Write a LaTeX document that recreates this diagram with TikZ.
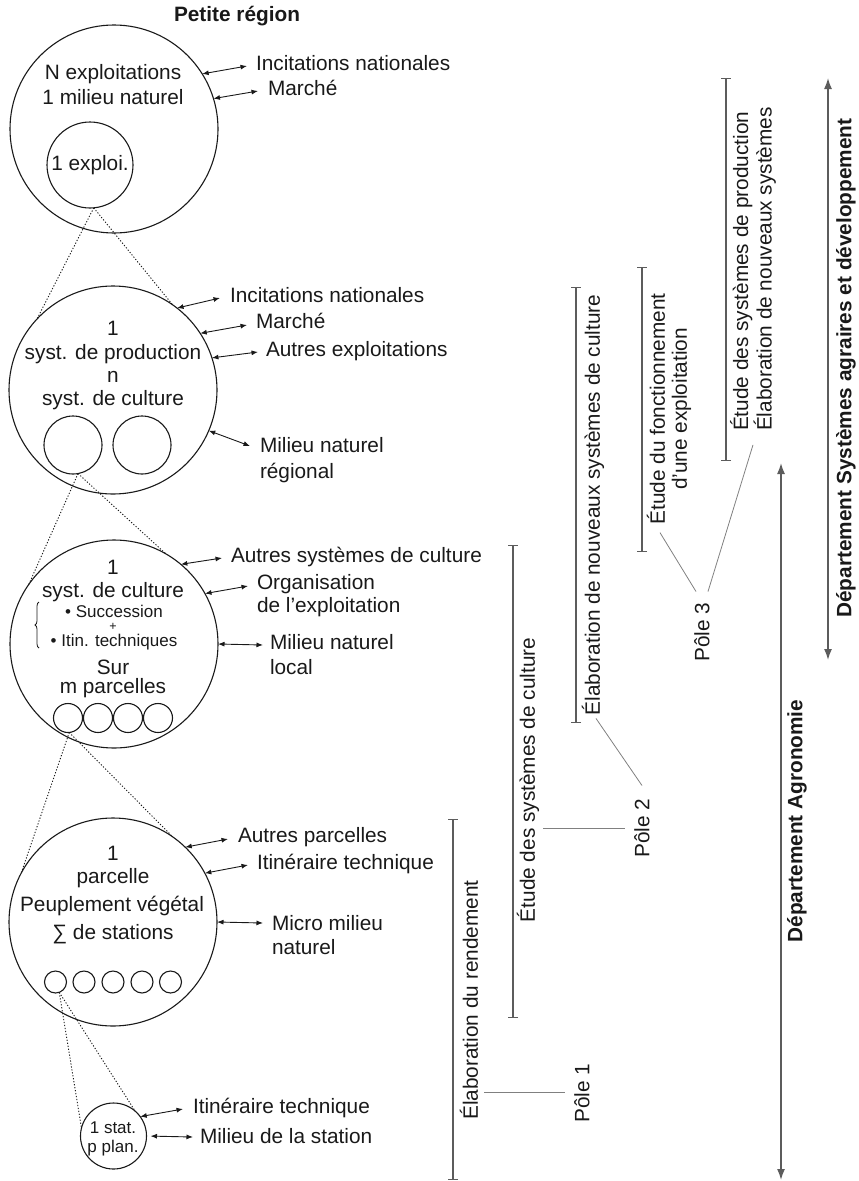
\documentclass[tikz,border=0pt]{standalone}
\usepackage{fontspec}
\setmainfont{Liberation Sans}
\usetikzlibrary{arrows.meta,decorations.pathreplacing}
\definecolor{ink}{gray}{0.1}
\definecolor{barc}{gray}{0.36}
\definecolor{polec}{gray}{0.5}
\begin{document}
\begin{tikzpicture}[x=1pt,y=-1pt,
  every node/.style={inner sep=0pt, outer sep=0pt, text=ink},
  big/.style={font=\fontsize{20.8}{24}\selectfont},
  ctr/.style={big, anchor=base},
  sml/.style={font=\fontsize{17}{20}\selectfont, anchor=base},
  lab/.style={big, anchor=base west},
  ring/.style={draw=ink, line width=1.1pt, shape=circle, minimum size=#1},
  dbl/.style={{Latex[length=6.5pt,width=5pt]}-{Latex[length=6.5pt,width=5pt]}, line width=0.9pt, draw=ink},
  zoomline/.style={draw=ink, line width=0.9pt, dash pattern=on 1.2pt off 1.8pt},
  bar/.style={{Bar[width=10pt]}-{Bar[width=10pt]}, line width=1.2pt, draw=barc},
  pole/.style={draw=polec, line width=0.8pt},
  rot/.style={big, rotate=90},
  dept/.style={{Latex[length=11pt,width=8pt]}-{Latex[length=11pt,width=8pt]}, line width=1.5pt, draw=barc}
]
\useasboundingbox (0,0) rectangle (859,1181);

% ---------- title
\node[big, font=\bfseries\fontsize{20.8}{24}\selectfont] (title) at (237,16) {Petite région};

% ---------- circle 1
\node[ring=208] (c1) at (114,129) {};
\node[ring=86] (c1in) at (90,165) {};
\node[ctr] (t1a) at (113,79) {N exploitations};
\node[ctr] (t1b) at (113,104) {1 milieu naturel};
\node[ctr] (t1c) at (90,170) {1 exploi.};
\node[lab] (L1a) at (256,70) {Incitations nationales};
\node[lab] (L1b) at (268,95) {Marché};
\draw[dbl] (c1.32) -- ([shift={(-9pt,4pt)}]L1a.base west);
\draw[dbl] (c1.17) -- ([shift={(-10pt,4pt)}]L1b.base west);

% ---------- circle 2
\node[ring=208] (c2) at (113,390) {};
\node[ring=58] (s21) at (73,445) {};
\node[ring=58] (s22) at (142,445) {};
\node[ctr] (t2a) at (113,335) {1};
\node[ctr] (t2b) at (113,359) {syst. de production};
\node[ctr] (t2c) at (113,382) {n};
\node[ctr] (t2d) at (113,405) {syst. de culture};
\node[lab] (L2a) at (230,302) {Incitations nationales};
\node[lab] (L2b) at (256,328) {Marché};
\node[lab] (L2c) at (266,356) {Autres exploitations};
\node[lab] (L2d) at (260,452) {Milieu naturel};
\node[lab] (L2e) at (260,478) {régional};
\draw[dbl] (c2.52) -- ([shift={(-10pt,4pt)}]L2a.base west);
\draw[dbl] (c2.33) -- ([shift={(-9pt,3pt)}]L2b.base west);
\draw[dbl] (c2.18) -- ([shift={(-8pt,4pt)}]L2c.base west);
\draw[dbl] (c2.-23) -- ([shift={(-10pt,6pt)}]L2d.base west);
\draw[zoomline] (c1in.-85) -- (c2.137);
\draw[zoomline] (c1in.-85) -- (c2.55);

% ---------- circle 3
\node[ring=208] (c3) at (114,644) {};
\foreach \i/\x in {1/68,2/98,3/128,4/158}{\node[ring=29] (s3\i) at (\x,718) {};}
\node[ctr] (t3a) at (113,574) {1};
\node[ctr] (t3b) at (113,597) {syst. de culture};
\node[sml] (t3c) at (114,617) {• Succession};
\node[font=\fontsize{12.5}{14}\selectfont, anchor=base] (t3d) at (113,630) {+};
\node[sml] (t3e) at (114,646) {• Itin. techniques};
\node[ctr] (t3f) at (113,674) {Sur};
\node[ctr] (t3g) at (113,693) {m parcelles};
\draw[ink, line width=0.8pt, decorate, decoration={brace, amplitude=4pt}] (39,648) -- (39,602);
\node[lab] (L3a) at (231,562) {Autres systèmes de culture};
\node[lab] (L3b) at (257,589) {Organisation};
\node[lab] (L3c) at (257,612) {de l’exploitation};
\node[lab] (L3d) at (270,649) {Milieu naturel};
\node[lab] (L3e) at (270,674) {local};
\draw[dbl] (c3.50) -- ([shift={(-9pt,4pt)}]L3a.base west);
\draw[dbl] (c3.29) -- ([shift={(-9pt,3pt)}]L3b.base west);
\draw[dbl] (c3.0) -- ([shift={(-7pt,4pt)}]L3d.base west);
\draw[zoomline] (s21.-80) -- (c3.145);
\draw[zoomline] (s21.-80) -- (c3.60);

% ---------- circle 4
\node[ring=208] (c4) at (113,922) {};
\foreach \i/\x in {1/55.5,2/84,3/113,4/142,5/170.5}{\node[ring=22] (s4\i) at (\x,982) {};}
\node[ctr] (t4a) at (113,860) {1};
\node[ctr] (t4b) at (113,883) {parcelle};
\node[ctr] (t4c) at (112,911) {Peuplement végétal};
\node[ctr] (t4d) at (113,939) {∑ de stations};
\node[lab] (L4a) at (238,842) {Autres parcelles};
\node[lab] (L4b) at (257,869) {Itinéraire technique};
\node[lab] (L4c) at (272,930) {Micro milieu};
\node[lab] (L4d) at (272,954) {naturel};
\draw[dbl] (c4.46) -- ([shift={(-10pt,3pt)}]L4a.base west);
\draw[dbl] (c4.28) -- ([shift={(-9pt,4pt)}]L4b.base west);
\draw[dbl] (c4.0) -- ([shift={(-9pt,7pt)}]L4c.base west);
\draw[zoomline] (s31.-85) -- (c4.152);
\draw[zoomline] (s31.-85) -- (c4.55);

% ---------- station circle
\node[ring=66] (c5) at (113.5,1136) {};
\node[sml] (t5a) at (113,1133) {1 stat.};
\node[sml] (t5b) at (113,1152) {p plan.};
\node[lab] (L5a) at (193,1113) {Itinéraire technique};
\node[lab] (L5b) at (200,1143) {Milieu de la station};
\draw[dbl] (c5.36) -- ([shift={(-10pt,4pt)}]L5a.base west);
\draw[dbl, shorten <=4pt] (c5.0) -- ([shift={(-7pt,6pt)}]L5b.base west);
\draw[zoomline] (s41.-70) -- (c5.166);
\draw[zoomline] (s41.-70) -- (c5.49);

% ---------- right side: bars
\draw[bar] (453,819) -- (453,1180);
\node[rot] (b1t) at (469,1000) {Élaboration du rendement};
\draw[bar] (513,545) -- (513,1018);
\node[rot] (b2t) at (528,780) {Étude des systèmes de culture};
\draw[bar] (576,287) -- (576,723);
\node[rot] (b3t) at (593,505) {Élaboration de nouveaux systèmes de culture};
\draw[bar] (642,267) -- (642,552);
\node[rot, align=center, font=\fontsize{20.8}{22}\selectfont] (b4t) at (669,409) {Étude du fonctionnement\\d’une exploitation};
\draw[bar] (726,78) -- (726,461);
\node[rot, align=left, font=\fontsize{20.8}{22}\selectfont] (b5t) at (753,269) {Étude des systèmes de production\\Élaboration de nouveaux systèmes};

% ---------- poles
\node[rot] (p1) at (582,1093) {Pôle 1};
\node[rot] (p2) at (642,828) {Pôle 2};
\node[rot] (p3) at (702,632) {Pôle 3};
\coordinate (e1) at (484,1092);
\coordinate (e2) at (543,828);
\draw[pole, shorten >=9pt] (e1) -- (e1 -| p1.north);
\draw[pole, shorten >=9pt] (e2) -- (e2 -| p2.north);
\draw[pole] ([yshift=13pt]p2.east) -- ([shift={(3pt,-3pt)}]b3t.west);
\draw[pole] ([shift={(-6pt,11pt)}]p3.east) -- ([shift={(-9pt,-8pt)}]b4t.west);
\draw[pole] ([shift={(6pt,11pt)}]p3.east) -- ([yshift=-14pt]b5t.west);

% ---------- departments
\draw[dept] (828,78) -- (828,660);
\node[rot, font=\bfseries\fontsize{20.8}{24}\selectfont] (d1) at (846,368) {Département Systèmes agraires et développement};
\draw[dept] (781,463) -- (781,1180);
\node[rot, font=\bfseries\fontsize{20.8}{24}\selectfont] (d2) at (797,821) {Département Agronomie};
\end{tikzpicture}
\end{document}
